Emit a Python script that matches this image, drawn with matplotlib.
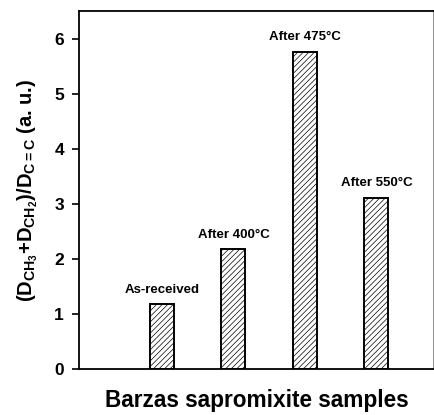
import matplotlib
matplotlib.use('Agg')
import matplotlib.pyplot as plt

samples = ['As-received', 'After 400\u00b0C', 'After 475\u00b0C', 'After 550\u00b0C']
positions = [1, 2, 3, 4]
ratios = [1.18, 2.18, 5.77, 3.12]
yticks = [0, 1, 2, 3, 4, 5, 6]

plt.rcParams['font.family'] = 'Liberation Sans'
plt.rcParams['font.weight'] = 'bold'
plt.rcParams['mathtext.fontset'] = 'custom'
plt.rcParams['mathtext.rm'] = 'Liberation Sans:bold'
plt.rcParams['mathtext.it'] = 'Liberation Sans:bold'
plt.rcParams['mathtext.bf'] = 'Liberation Sans:bold'
plt.rcParams['hatch.linewidth'] = 0.5

fig = plt.figure(figsize=(4.35, 4.15), dpi=100)
ax = fig.add_axes([0.1823, 0.110, 0.8159, 0.8625])

bars = ax.bar(positions, ratios, width=0.335, color='white', edgecolor='black',
              linewidth=1.4, hatch='//////')
for x, v, s in zip(positions, ratios, samples):
    ax.annotate(s, (x, v), xytext=(0, 6), textcoords='offset points',
                ha='center', va='bottom', fontsize=9.5, fontweight='bold')

ax.set_xlim(-0.157, 4.81)
ax.set_ylim(0, 6.5)
ax.set_yticks(yticks)
ax.set_xticks([])
ax.tick_params(axis='y', direction='out', length=5, width=1.2, labelsize=12.5, pad=6)
for lab in ax.get_yticklabels():
    lab.set_fontweight('bold')
for sp in ax.spines.values():
    sp.set_linewidth(1.3)
ax.spines['right'].set_color('#888888')

ax.set_ylabel(r'(D$_{\mathrm{CH_3}}$+D$_{\mathrm{CH_2}}$)/D$_{\mathrm{C=C}}$ (a. u.)',
              fontsize=14.5, fontweight='bold', labelpad=10)
ax.set_xlabel('Barzas sapromixite samples', fontsize=16.3, fontweight='bold', labelpad=14)

fig.savefig('out.png', dpi=100)
